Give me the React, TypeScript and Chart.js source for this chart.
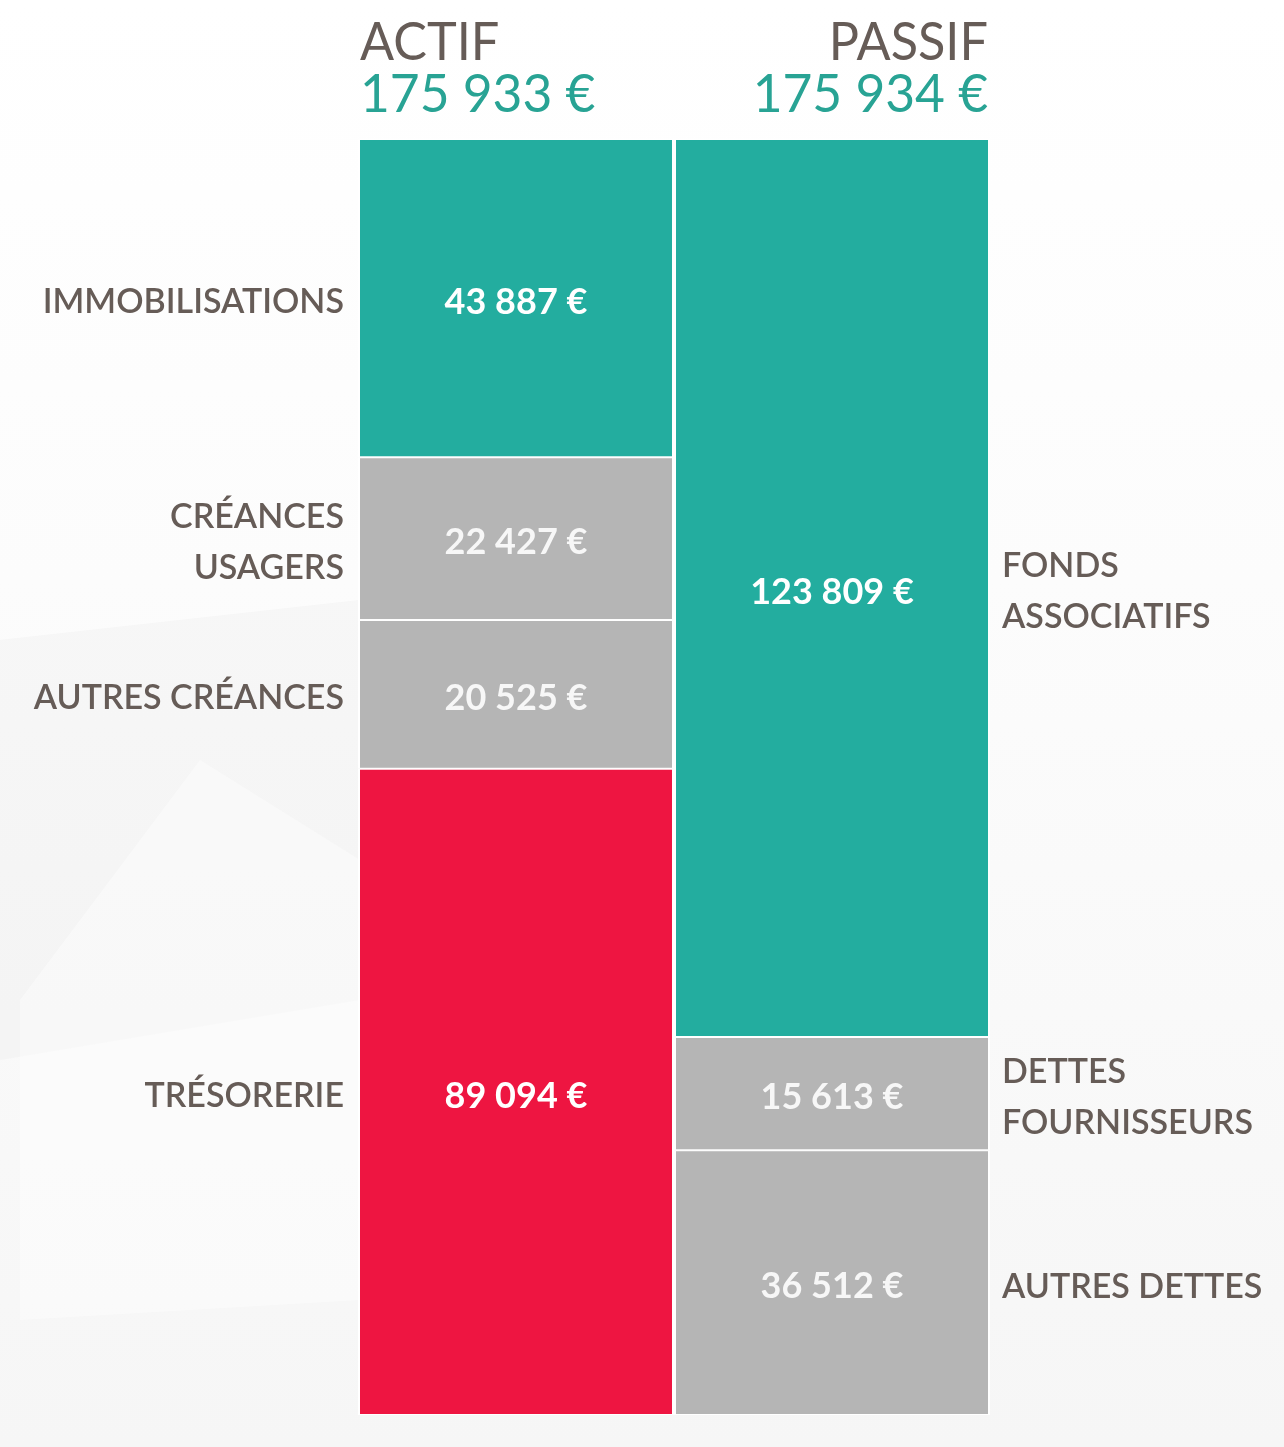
import React, { useEffect, useRef } from "react";
import { Chart, registerables } from "chart.js";

Chart.register(...registerables);

const CATEGORIES = ["ACTIF", "PASSIF"];
const TOTALS = [175933, 175934];
const ACTIF_LABELS = [["IMMOBILISATIONS"], ["CRÉANCES", "USAGERS"], ["AUTRES CRÉANCES"], ["TRÉSORERIE"]];
const ACTIF_VALUES = [43887, 22427, 20525, 89094];
const PASSIF_LABELS = [["FONDS", "ASSOCIATIFS"], ["DETTES", "FOURNISSEURS"], ["AUTRES DETTES"]];
const PASSIF_VALUES = [123809, 15613, 36512];

const TEAL = "#23ad9f";
const GRAY = "#b5b5b5";
const RED = "#ee1541";
const ACTIF_COLORS = [TEAL, GRAY, GRAY, RED];
const PASSIF_COLORS = [TEAL, GRAY, GRAY];
const TEXT_COLOR = "#665c57";
const TITLE_NUM_COLOR = "#28a394";
const FONT = "Lato, 'Open Sans', sans-serif";

const fmt = (n: number) => String(n).replace(/\B(?=(\d{3})+(?!\d))/g, " ") + " €";

function drawText(ctx: CanvasRenderingContext2D, text: string, x: number, y: number, align: CanvasTextAlign, sx: number) {
  ctx.save();
  ctx.translate(x, y);
  ctx.scale(sx, 1);
  ctx.textAlign = align;
  ctx.fillText(text, 0, 0);
  ctx.restore();
}

const bgPlugin = {
  id: "bg",
  beforeDraw(chart: any) {
    const { ctx, width, height } = chart;
    ctx.save();
    const g = ctx.createLinearGradient(0, 0, 0, height);
    g.addColorStop(0, "#ffffff");
    g.addColorStop(0.4, "#fcfcfc");
    g.addColorStop(1, "#f6f6f6");
    ctx.fillStyle = g;
    ctx.fillRect(0, 0, width, height);
    ctx.fillStyle = "rgba(230,230,230,0.25)";
    ctx.beginPath();
    ctx.moveTo(0, 640);
    ctx.lineTo(360, 600);
    ctx.lineTo(360, 1000);
    ctx.lineTo(0, 1060);
    ctx.closePath();
    ctx.fill();
    ctx.fillStyle = "rgba(255,255,255,0.4)";
    ctx.beginPath();
    ctx.moveTo(20, 1000);
    ctx.lineTo(200, 760);
    ctx.lineTo(360, 860);
    ctx.lineTo(360, 1300);
    ctx.lineTo(20, 1320);
    ctx.closePath();
    ctx.fill();
    ctx.restore();
  },
};

const labelPlugin = {
  id: "labels",
  afterDatasetsDraw(chart: any) {
    const { ctx } = chart;
    ctx.save();
    ctx.textBaseline = "middle";
    const groups = [
      { labels: ACTIF_LABELS, values: ACTIF_VALUES, idx: 0 },
      { labels: PASSIF_LABELS, values: PASSIF_VALUES, idx: 1 },
    ];
    groups.forEach((grp) => {
      grp.values.forEach((v, i) => {
        const el = chart.getDatasetMeta(i).data[grp.idx];
        if (!el) return;
        const cy = (el.y + el.base) / 2 + 4;
        const left = el.x - el.width / 2;
        const right = el.x + el.width / 2;
        // value inside bar
        ctx.fillStyle = i === 0 || (grp.idx === 0 && i === 3) ? "#ffffff" : "#f7f7f7";
        ctx.font = `bold 36px ${FONT}`;
        drawText(ctx, fmt(v), el.x, cy, "center", 1.0);
        // side label
        ctx.fillStyle = TEXT_COLOR;
        ctx.font = `600 34px ${FONT}`;
        const lines = grp.labels[i];
        const lh = 51;
        lines.forEach((ln, k) => {
          const y = cy + (k - (lines.length - 1) / 2) * lh;
          if (grp.idx === 0) drawText(ctx, ln, left - 14, y, "right", 1.0);
          else drawText(ctx, ln, right + 12, y, "left", 1.0);
        });
      });
    });
    // column titles
    ctx.textBaseline = "alphabetic";
    CATEGORIES.forEach((c, j) => {
      const el = chart.getDatasetMeta(0).data[j];
      const left = el.x - el.width / 2 + 2;
      const right = el.x + el.width / 2 - 2;
      ctx.font = `52px ${FONT}`;
      ctx.fillStyle = TEXT_COLOR;
      if (j === 0) drawText(ctx, c, left, 60, "left", 0.97);
      else drawText(ctx, c, right, 60, "right", 0.97);
      ctx.fillStyle = TITLE_NUM_COLOR;
      if (j === 0) drawText(ctx, fmt(TOTALS[j]), left, 112, "left", 0.99);
      else drawText(ctx, fmt(TOTALS[j]), right, 112, "right", 0.99);
    });
    ctx.restore();
  },
};

export default function App() {
  const ref = useRef<HTMLCanvasElement | null>(null);
  useEffect(() => {
    document.body.style.margin = "0";
    const n = Math.max(ACTIF_VALUES.length, PASSIF_VALUES.length);
    const datasets = [];
    for (let i = 0; i < n; i++) {
      datasets.push({
        label: `s${i}`,
        data: [i < ACTIF_VALUES.length ? ACTIF_VALUES[i] : null, i < PASSIF_VALUES.length ? PASSIF_VALUES[i] : null],
        backgroundColor: [ACTIF_COLORS[i] || GRAY, PASSIF_COLORS[i] || GRAY],
        borderColor: "#ffffff",
        borderWidth: { top: 1, bottom: 1, left: 2, right: 2 },
        borderSkipped: false,
        inflateAmount: 0,
        barPercentage: 1,
        categoryPercentage: 1,
      });
    }
    const chart = new Chart(ref.current as HTMLCanvasElement, {
      type: "bar",
      data: { labels: CATEGORIES, datasets: datasets as any },
      plugins: [bgPlugin, labelPlugin],
      options: {
        animation: false,
        responsive: false,
        maintainAspectRatio: false,
        layout: { padding: { left: 358, right: 294, top: 139, bottom: 32 } },
        plugins: { legend: { display: false }, tooltip: { enabled: false } },
        scales: {
          x: { display: false, stacked: true },
          y: { display: false, stacked: true, reverse: true, min: 0, max: Math.max(...TOTALS) },
        },
      },
    });
    return () => chart.destroy();
  }, []);
  return <canvas ref={ref} width={1284} height={1447} style={{ display: "block" }} />;
}
